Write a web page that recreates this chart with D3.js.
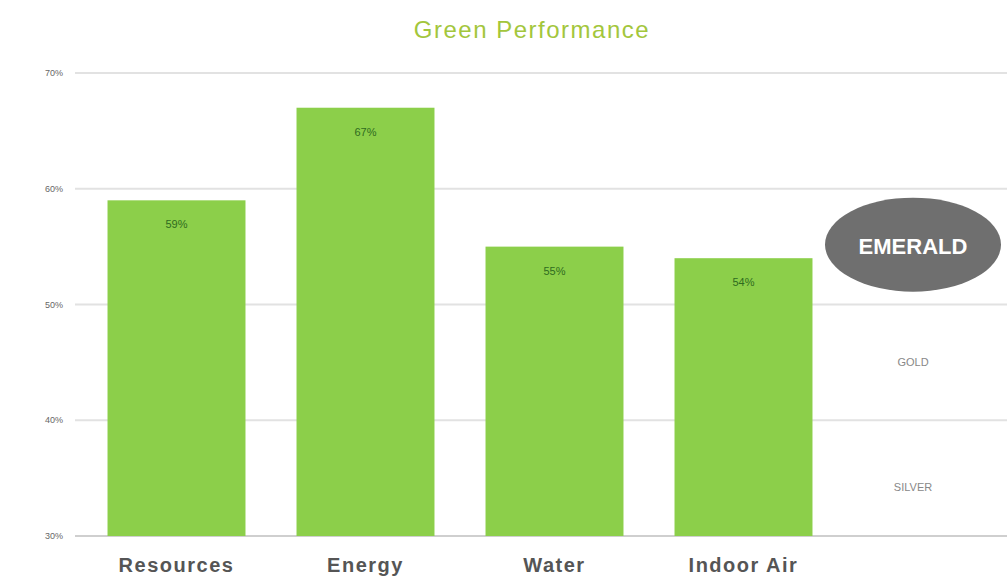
<!doctype html>
<html>
<head>
<meta charset="UTF-8">
<title>Green Performance</title>
<script src="https://cdn.jsdelivr.net/npm/d3@7"></script>
<style>
  body { margin: 0; background: #fff; }
  text { font-family: "Liberation Sans", Arial, sans-serif; }
</style>
</head>
<body>
<div id="chart"></div>
<script>
const categories = ["Resources", "Energy", "Water", "Indoor Air"];
const values = [59, 67, 55, 54];
const yTicks = [30, 40, 50, 60, 70];
const levels = ["SILVER", "GOLD", "EMERALD"];
const levelMid = [34.2, 45, 55];

const width = 1007, height = 580;

const svg = d3.select("#chart").append("svg")
  .attr("width", width).attr("height", height);

const x = d3.scaleBand()
  .domain(categories)
  .range([82, 838])
  .paddingInner(0.27)
  .paddingOuter(0.135);

const y = d3.scaleLinear().domain([30, 70]).range([536, 73]);

// gridlines
svg.append("g").selectAll("line")
  .data(yTicks)
  .join("line")
  .attr("x1", 75).attr("x2", width)
  .attr("y1", d => y(d)).attr("y2", d => y(d))
  .attr("stroke", d => d === 30 ? "#cfcfcf" : "#e2e2e2")
  .attr("stroke-width", 2);

// y tick labels
svg.append("g").selectAll("text")
  .data(yTicks)
  .join("text")
  .attr("x", 45).attr("y", d => y(d) + 3)
  .attr("font-size", 9)
  .attr("fill", "#666")
  .text(d => d + "%");

// bars
svg.append("g").selectAll("rect")
  .data(values)
  .join("rect")
  .attr("x", (d, i) => x(categories[i]))
  .attr("y", d => y(d))
  .attr("width", x.bandwidth())
  .attr("height", d => y(30) - y(d))
  .attr("fill", "#8ccf4a");

// value labels
svg.append("g").selectAll("text")
  .data(values)
  .join("text")
  .attr("x", (d, i) => x(categories[i]) + x.bandwidth() / 2)
  .attr("y", d => y(d) + 28)
  .attr("text-anchor", "middle")
  .attr("font-size", 11)
  .attr("fill", "#2f6b1f")
  .text(d => d + "%");

// category labels
svg.append("g").selectAll("text")
  .data(categories)
  .join("text")
  .attr("x", d => x(d) + x.bandwidth() / 2)
  .attr("y", 572)
  .attr("text-anchor", "middle")
  .attr("font-size", 20)
  .attr("font-weight", "bold")
  .attr("letter-spacing", 1.5)
  .attr("fill", "#555")
  .text(d => d);

// rating levels
const lx = 913;
svg.append("ellipse")
  .attr("cx", lx).attr("cy", y(levelMid[2]) - 2)
  .attr("rx", 88).attr("ry", 47)
  .attr("fill", "#6f6f6f");

svg.append("g").selectAll("text")
  .data(levels)
  .join("text")
  .attr("x", lx)
  .attr("y", (d, i) => y(levelMid[i]) + (d === "EMERALD" ? 7 : 4))
  .attr("text-anchor", "middle")
  .attr("font-size", d => d === "EMERALD" ? 22 : 11)
  .attr("font-weight", d => d === "EMERALD" ? "bold" : "normal")
  .attr("fill", d => d === "EMERALD" ? "#fff" : "#888")
  .text(d => d);

// title
svg.append("text")
  .attr("x", 532).attr("y", 38)
  .attr("text-anchor", "middle")
  .attr("font-size", 24)
  .attr("letter-spacing", 1.5)
  .attr("fill", "#a3c63c")
  .text("Green Performance");
</script>
</body>
</html>
